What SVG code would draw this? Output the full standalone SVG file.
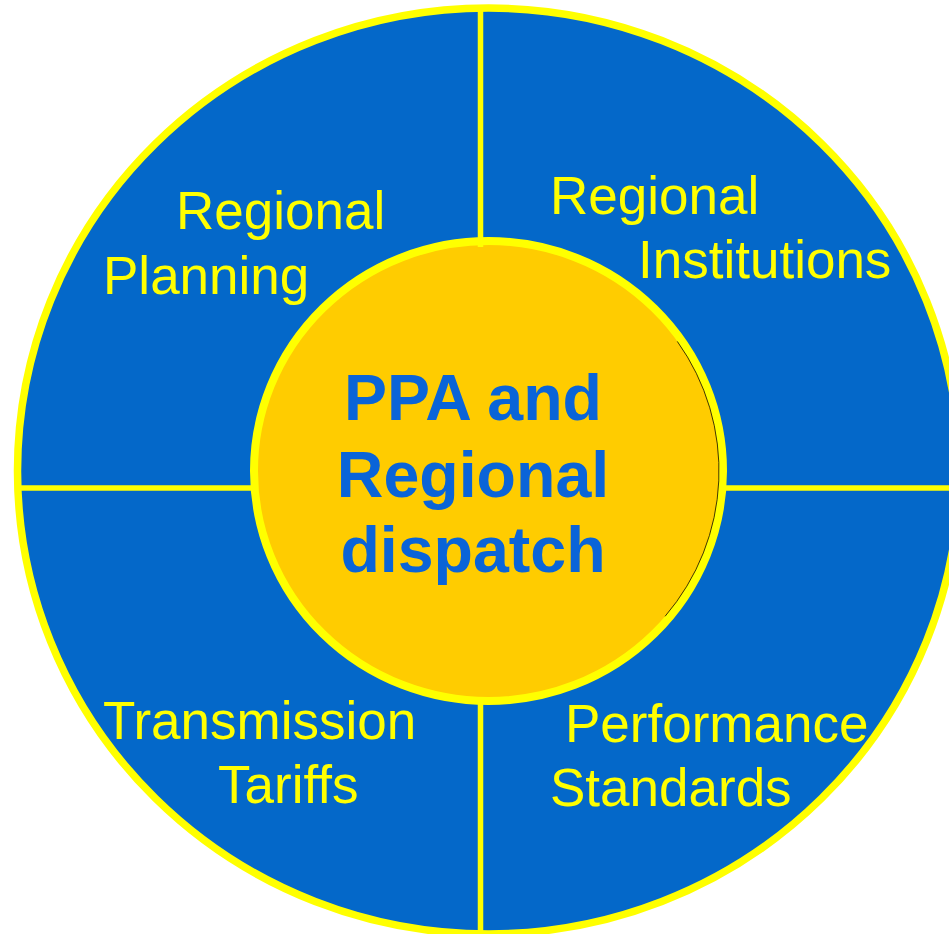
<svg xmlns="http://www.w3.org/2000/svg" width="949" height="934" viewBox="0 0 949 934">
  <style>
    .ring { fill: #0468C9; stroke: #FFFF00; stroke-width: 7.5; }
    .hub { fill: #FFCC00; stroke: #FFFF00; stroke-width: 8; }
    .divider { stroke: #FFFF00; stroke-width: 5.5; fill: none; }
    .label { font-family: "Liberation Sans", Arial, sans-serif; font-size: 53px; fill: #FFFF00; }
    .core { font-family: "Liberation Sans", Arial, sans-serif; font-size: 64.5px; font-weight: bold; fill: #0A64D8; text-anchor: middle; }
  </style>

  <!-- outer ring of four quadrants -->
  <g id="outer-ring">
    <ellipse class="ring" cx="488.5" cy="471" rx="471" ry="463"/>
  </g>

  <!-- quadrant dividers -->
  <g id="connectors">
    <line class="divider" x1="17" y1="488" x2="252" y2="488"/>
    <line class="divider" x1="724" y1="488" x2="949" y2="488"/>
    <line class="divider" x1="480.5" y1="697" x2="480.5" y2="934"/>
  </g>

  <!-- central hub -->
  <g id="hub">
    <ellipse class="hub" cx="488.5" cy="471" rx="234.5" ry="230"/>
    <path d="M 677.3 341.4 A 230.5 226 0 0 1 665.1 616.3" fill="none" stroke="#000" stroke-width="1" opacity="0.75"/>
    <line class="divider" x1="480.5" y1="8" x2="480.5" y2="247"/>
    <text class="core" x="473" y="420">PPA and</text>
    <text class="core" x="473" y="497">Regional</text>
    <text class="core" x="473" y="572">dispatch</text>
  </g>

  <g id="regional-planning">
    <text class="label" x="176" y="229">Regional</text>
    <text class="label" x="103" y="294">Planning</text>
  </g>

  <g id="regional-institutions">
    <text class="label" x="550" y="214">Regional</text>
    <text class="label" x="638" y="278">Institutions</text>
  </g>

  <g id="transmission-tariffs">
    <text class="label" x="103" y="739">Transmission</text>
    <text class="label" x="218" y="803">Tariffs</text>
  </g>

  <g id="performance-standards">
    <text class="label" x="565" y="742">Performance</text>
    <text class="label" x="550" y="806">Standards</text>
  </g>
</svg>
